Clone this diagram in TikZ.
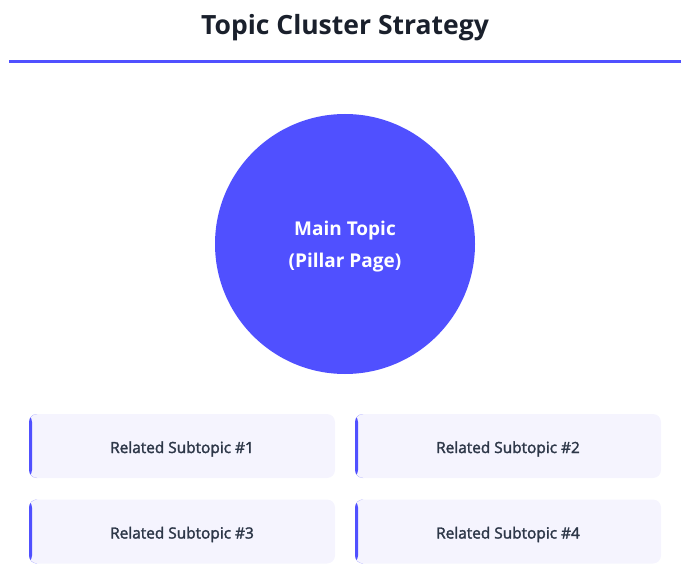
\documentclass[tikz,border=0pt]{standalone}
\usepackage{fontspec}
\setmainfont{Open Sans}
\newfontfamily\medfont{Open Sans}[FakeBold=2]
\newcommand{\lowr}[1]{\raisebox{-3pt}[\height][\depth]{#1}}
\definecolor{accent}{HTML}{5050FF}
\definecolor{boxfill}{HTML}{F5F4FE}
\definecolor{titlecol}{HTML}{1A202C}
\definecolor{subtext}{HTML}{2D3748}
\begin{document}
\begin{tikzpicture}[x=1pt,y=-1pt,
  subbox/.style={rounded corners=8pt, fill=boxfill, minimum width=306pt, minimum height=64pt,
    inner sep=0pt, text=subtext, font=\medfont\fontsize{15.4}{18}\selectfont,
    path picture={\fill[accent] (path picture bounding box.south west) rectangle ([xshift=3pt]path picture bounding box.north west);}},
  pillar/.style={circle, fill=accent, minimum size=260pt, inner sep=0pt, text=white, align=center,
    font=\bfseries\fontsize{19}{32}\selectfont}
]
\useasboundingbox (0,0) rectangle (697,586);
\node[anchor=base, text=titlecol, font=\bfseries\fontsize{26.5}{30}\selectfont, inner sep=0pt] (title) at (345,35) {Topic Cluster Strategy};
\coordinate (rl) at (9,62);
\coordinate (rr) at (681,62);
\draw[accent, line width=3pt] (rl) -- (rr);
\node[pillar] (main) at (345,244) {\lowr{Main Topic}\\\lowr{(Pillar Page)}};
\node[subbox] (s1) at (182,446) {\lowr{Related Subtopic \#1}};
\node[subbox] (s2) at (508,446) {\lowr{Related Subtopic \#2}};
\node[subbox] (s3) at (182,531.5) {\lowr{Related Subtopic \#3}};
\node[subbox] (s4) at (508,531.5) {\lowr{Related Subtopic \#4}};
\end{tikzpicture}
\end{document}
